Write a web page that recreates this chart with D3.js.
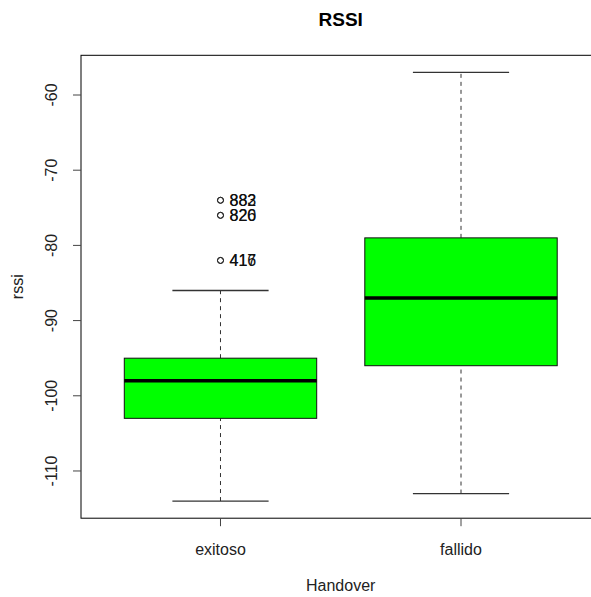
<!DOCTYPE html>
<html><head><meta charset="utf-8">
<script src="https://d3js.org/d3.v7.min.js"></script>
<style>body{margin:0;background:#fff}svg{display:block}text{font-family:"Liberation Sans",Arial,sans-serif}</style>
</head><body>
<svg id="c" width="591" height="597"></svg>
<script>
const categories = ["exitoso", "fallido"];
const whiskerLow = [-114, -113];
const q1 = [-103, -96];
const median = [-98, -87];
const q3 = [-95, -79];
const whiskerHigh = [-86, -57];
const outlierValues = [[-74, -74, -76, -76, -82, -82], []];
const outlierLabels = [["882", "883", "820", "826", "416", "417"], []];
const yTicks = [-110, -100, -90, -80, -70, -60];

const svg = d3.select("#c");
const L = 81, R = 600.5, T = 55.3, B = 518.2;
const x = d3.scaleLinear().domain([0.42, 2.58]).range([L, R]);
const y = d3.scaleLinear().domain([-116.28, -54.72]).range([B, T]);

const g = svg.append("g");
categories.forEach((c, i) => {
  const cx = x(i + 1);
  const hw = x(1.4) - x(1);
  const cw = hw / 2;
  // whiskers
  g.append("line").attr("x1", cx).attr("x2", cx).attr("y1", y(whiskerLow[i])).attr("y2", y(q1[i]))
    .attr("stroke", "#333").attr("stroke-dasharray", "4,4");
  g.append("line").attr("x1", cx).attr("x2", cx).attr("y1", y(q3[i])).attr("y2", y(whiskerHigh[i]))
    .attr("stroke", "#333").attr("stroke-dasharray", "4,4");
  // caps
  [whiskerLow[i], whiskerHigh[i]].forEach(v => {
    g.append("line").attr("x1", cx - cw).attr("x2", cx + cw).attr("y1", y(v)).attr("y2", y(v))
      .attr("stroke", "#333").attr("stroke-width", 1.3);
  });
  // box
  g.append("rect").attr("x", cx - hw).attr("width", 2 * hw)
    .attr("y", y(q3[i])).attr("height", y(q1[i]) - y(q3[i]))
    .attr("fill", "#00ff00").attr("stroke", "#111").attr("stroke-width", 1);
  g.append("line").attr("x1", cx - hw).attr("x2", cx + hw).attr("y1", y(median[i])).attr("y2", y(median[i]))
    .attr("stroke", "#000").attr("stroke-width", 3.5);
  // outliers
  outlierValues[i].forEach((v, k) => {
    g.append("circle").attr("cx", cx).attr("cy", y(v)).attr("r", 3)
      .attr("fill", "none").attr("stroke", "#222").attr("stroke-width", 1);
    g.append("text").attr("x", cx + 9).attr("y", y(v)).attr("dy", "0.35em")
      .attr("font-size", 16).attr("fill", "#111").text(outlierLabels[i][k]);
  });
});

// frame
svg.append("rect").attr("x", L).attr("y", T).attr("width", R - L).attr("height", B - T)
  .attr("fill", "none").attr("stroke", "#000").attr("stroke-width", 1);

// y axis
const yAxis = svg.append("g");
yTicks.forEach(t => {
  yAxis.append("line").attr("x1", L - 8).attr("x2", L).attr("y1", y(t)).attr("y2", y(t)).attr("stroke", "#444");
  yAxis.append("text").attr("transform", `translate(57,${y(t)}) rotate(-90)`)
    .attr("text-anchor", "middle").attr("font-size", 16).attr("fill", "#222").text(t);
});
// x axis
categories.forEach((c, i) => {
  svg.append("line").attr("x1", x(i + 1)).attr("x2", x(i + 1)).attr("y1", B).attr("y2", B + 8).attr("stroke", "#444");
  svg.append("text").attr("x", x(i + 1)).attr("y", 555).attr("text-anchor", "middle")
    .attr("font-size", 16).attr("fill", "#222").text(c);
});

svg.append("text").attr("x", 340.7).attr("y", 591).attr("text-anchor", "middle")
  .attr("font-size", 16).attr("fill", "#222").text("Handover");
svg.append("text").attr("transform", `translate(23,${(T + B) / 2}) rotate(-90)`).attr("text-anchor", "middle")
  .attr("font-size", 16).attr("fill", "#222").text("rssi");
svg.append("text").attr("x", 340.7).attr("y", 26).attr("text-anchor", "middle")
  .attr("font-size", 19).attr("font-weight", "bold").attr("fill", "#000").text("RSSI");
</script>
</body></html>
